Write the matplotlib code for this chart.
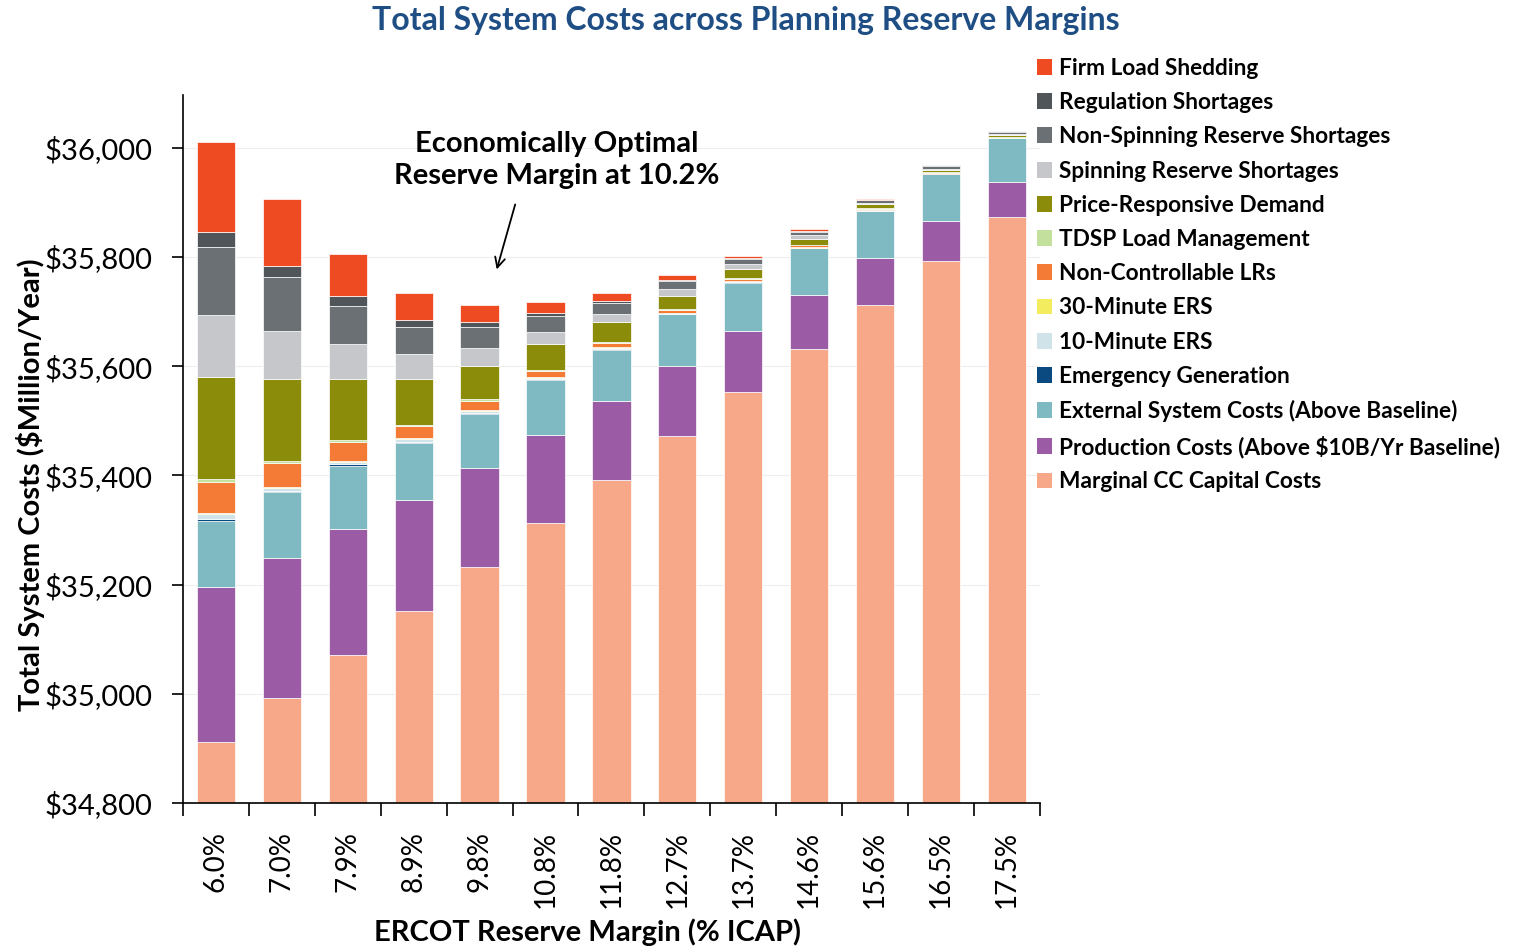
import matplotlib.pyplot as plt
import numpy as np
from matplotlib.ticker import FuncFormatter, MultipleLocator
from matplotlib.patches import Patch

plt.rcParams['font.family'] = ['Lato', 'DejaVu Sans']

margins = ['6.0%', '7.0%', '7.9%', '8.9%', '9.8%', '10.8%', '11.8%',
           '12.7%', '13.7%', '14.6%', '15.6%', '16.5%', '17.5%']

# segment sizes ($M/yr), bottom to top; CC capital is the height of the base bar
cc_capital = [34912, 34992, 35071, 35152, 35232, 35312, 35392, 35472, 35552, 35632, 35712, 35793, 35873]
production = [284, 256, 230, 203, 182, 162, 145, 129, 113, 99, 86, 73, 64]
external = [121, 121, 116, 105, 98, 101, 93, 94, 88, 85, 86, 85, 81]
emergency = [4, 3, 3, 2, 3, 2, 2, 1, 1, 0.5, 0.5, 0.5, 0.3]
ers10 = [9, 5, 5, 5, 3, 2, 2, 1, 1, 0.5, 0.5, 0.5, 0.3]
ers30 = [2, 2, 2, 1, 1, 1, 1, 1, 0.5, 0.5, 0.5, 0.3, 0.2]
nclr = [56, 44, 34, 22, 17, 11, 8, 5, 4, 4, 3, 2, 1]
tdsp = [6, 3, 4, 3, 3, 2, 2, 1, 1, 1, 1, 0.5, 0.3]
prd = [187, 151, 112, 84, 62, 47, 36, 25, 17, 11, 7, 5, 3]
spinning = [113, 88, 63, 45, 33, 23, 15, 13, 9, 6, 3, 2, 2]
non_spinning = [124, 99, 71, 50, 38, 29, 20, 13, 9, 6, 4, 5, 4]
regulation = [28, 20, 17, 12, 8, 5, 4, 3, 3, 2, 1, 1, 1]
firm_shed = [165, 122, 77, 49, 32, 20, 13, 8, 4, 4, 2, 1, 0.5]

series = [
    ('Marginal CC Capital Costs', cc_capital, '#F7A888'),
    ('Production Costs (Above $10B/Yr Baseline)', production, '#9B5BA5'),
    ('External System Costs (Above Baseline)', external, '#7FB9C2'),
    ('Emergency Generation', emergency, '#0B4A80'),
    ('10-Minute ERS', ers10, '#CFE3E8'),
    ('30-Minute ERS', ers30, '#F3EC5E'),
    ('Non-Controllable LRs', nclr, '#F47B35'),
    ('TDSP Load Management', tdsp, '#C3E09C'),
    ('Price-Responsive Demand', prd, '#8A8C0A'),
    ('Spinning Reserve Shortages', spinning, '#C5C7CA'),
    ('Non-Spinning Reserve Shortages', non_spinning, '#6B7075'),
    ('Regulation Shortages', regulation, '#4F5558'),
    ('Firm Load Shedding', firm_shed, '#EF4B23'),
]

fig = plt.figure(figsize=(15.19, 9.47), dpi=100)
ax = fig.add_axes([0.1205, 0.152, 0.564, 0.748])

x = np.arange(len(margins))
bottom = np.zeros(len(margins))
handles = []
for name, vals, color in series:
    vals = np.array(vals, dtype=float)
    ax.bar(x, vals, bottom=bottom, width=0.58, color=color,
           edgecolor='white', linewidth=0.5, zorder=2)
    bottom += vals
    handles.append(Patch(facecolor=color, label=name))

ax.set_ylim(34800, 36097)
ax.set_xlim(-0.5, len(margins) - 0.5)
ax.yaxis.set_major_locator(MultipleLocator(200))
ax.yaxis.set_major_formatter(FuncFormatter(lambda v, p: '${:,.0f}'.format(v)))
ax.grid(axis='y', color='#EEEEEE', linewidth=0.8, zorder=0)

ax.set_xticks(x)
ax.set_xticklabels(margins, rotation=90, fontsize=20)
ax.set_xticks(np.arange(-0.5, len(margins)), minor=True)
ax.tick_params(axis='x', which='major', length=0, pad=20)
ax.tick_params(axis='x', which='minor', length=9, width=1.2)
ax.tick_params(axis='y', labelsize=21, length=8, width=1.2, pad=14)

for s in ['top', 'right']:
    ax.spines[s].set_visible(False)
for s in ['left', 'bottom']:
    ax.spines[s].set_linewidth(1.2)

fig.text(31 / 1519, 1 - 485 / 947, 'Total System Costs ($Million/Year)', rotation=90,
         ha='center', va='center', fontsize=21, fontweight='bold')
fig.text(587 / 1519, 1 - 932 / 947, 'ERCOT Reserve Margin (% ICAP)',
         ha='center', va='center', fontsize=21, fontweight='bold')

fig.text(0.491, 0.978, 'Total System Costs across Planning Reserve Margins',
         ha='center', va='center', fontsize=23, fontweight='bold', color='#1F4E84')

ax.text(5.17, 35978, 'Economically Optimal\nReserve Margin at 10.2%',
        ha='center', va='center', fontsize=21, fontweight='bold', linespacing=1.3)
ax.annotate('', xy=(4.26, 35777), xytext=(4.54, 35896),
            arrowprops=dict(arrowstyle='->', color='black', lw=1.3,
                            shrinkA=0, shrinkB=0, mutation_scale=18))

fig.legend(handles=handles[::-1], loc='upper left', bbox_to_anchor=(0.669, 0.9605),
           frameon=False, prop={'weight': 'bold', 'size': 16.3},
           handlelength=0.7, handleheight=0.7, handletextpad=0.3, labelspacing=0.585)

fig.savefig('out.png', dpi=100)
